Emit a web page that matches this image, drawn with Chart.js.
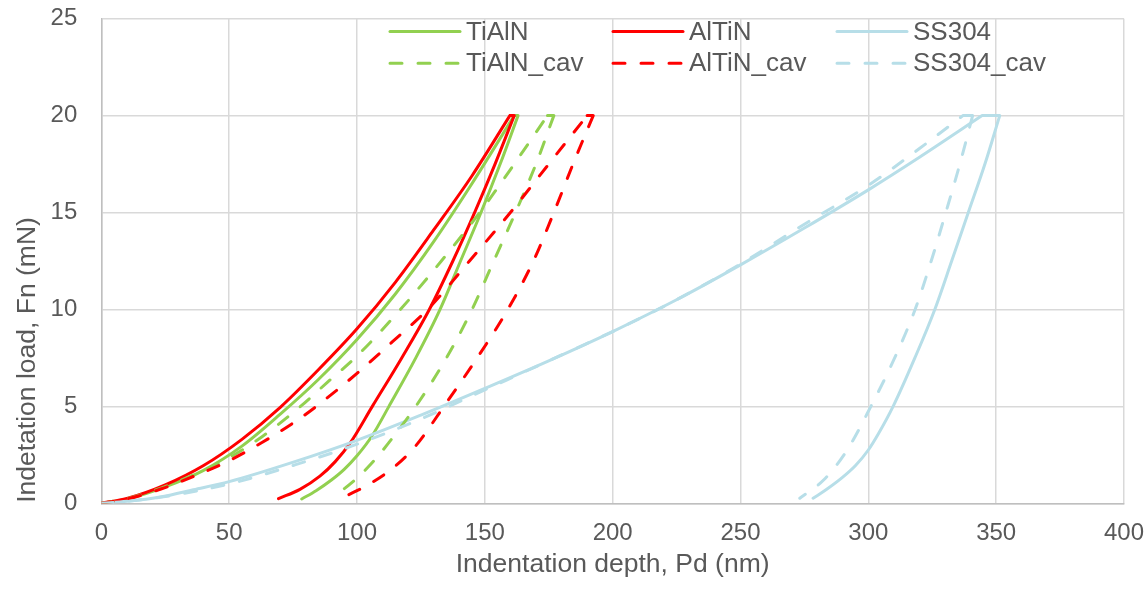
<!DOCTYPE html>
<html>
<head>
<meta charset="utf-8">
<title>Indentation load–depth curves</title>
<script src="https://cdn.jsdelivr.net/npm/chart.js@4.4.1/dist/chart.umd.min.js"></script>
<style>
  html, body { margin: 0; padding: 0; background: #ffffff; }
  canvas { display: block; }
</style>
</head>
<body>
<canvas id="chart" width="1148" height="589"></canvas>
<script>
// ---- Load–depth data: [depth (nm), load (mN)] ----
// Each sample has a loading branch and an unloading branch; the short
// hold at peak load joins the end of loading to the start of unloading.
const tialnLoad = [[0,0],[10,0.22],[25,0.85],[40,1.7],[55,2.95],[70,4.6],[85,6.4],[100,8.45],[115,10.8],[130,13.5],[145,16.5],[161.5,20]];
const tialnUnload = [[163,20],[156,17.5],[148.5,15],[140.5,12.5],[132.5,10],[123,7.5],[112.5,5],[106,3.5],[100,2.45],[95,1.75],[90,1.2],[84,0.65],[78.4,0.22]];

const altinLoad = [[0,0],[10,0.25],[25,0.95],[40,1.95],[55,3.3],[70,4.95],[85,6.9],[100,9.0],[115,11.4],[130,14.1],[145,16.9],[159.8,20]];
const altinUnload = [[161.5,20],[154,17.5],[146,15],[137.5,12.5],[128.3,10],[117.5,7.5],[106,5],[97.3,3.1],[91.5,2.15],[85.5,1.4],[77.7,0.72],[69.3,0.24]];

const ss304Load = [[0,0],[10,0.1],[23.6,0.34],[36,0.7],[50,1.12],[75.7,2.15],[100,3.25],[125,4.55],[150,5.93],[175,7.35],[200,8.86],[225,10.5],[250,12.3],[275,14.2],[300,16.17],[320,17.85],[344.5,20]];
const ss304Unload = [[351.4,20],[345.6,17.5],[339.1,15],[332.6,12.5],[326,10],[318.2,7.5],[309.7,5],[304,3.6],[300,2.75],[295,1.95],[290,1.35],[284,0.75],[278.4,0.26]];

const tialnCavLoad = [[0,0],[10,0.24],[23.6,0.8],[36.6,1.5],[50,2.35],[63,3.45],[77.5,4.95],[88.5,6.25],[100,7.6],[117,10],[133,12.5],[148,15],[161.5,17.5],[174.5,20]];
const tialnCavUnload = [[177,20],[170,17.5],[162,15],[153.5,12.5],[145,10],[135,7.5],[123,5],[112,3.05],[106,2.1],[100,1.3],[92,0.43]];

const altinCavLoad = [[0,0],[10,0.22],[23.6,0.75],[36.6,1.42],[50,2.2],[63,3.15],[75.7,4.2],[83.6,4.95],[100,6.7],[114,8.35],[128,10.05],[144,12.5],[160,15],[175,17.5],[190,20]];
const altinCavUnload = [[192.4,20],[184.5,17.5],[177,15],[169,12.5],[159,10],[147,7.5],[134,5],[123.2,3],[115,1.92],[106,1.08],[100,0.65],[93.4,0.24]];

const ss304CavLoad = [[0,0],[10,0.1],[23.6,0.32],[50,1.0],[75.7,1.98],[100,3.05],[125,4.35],[150,5.85],[175,7.35],[200,8.86],[225,10.5],[250,12.35],[275,14.4],[300,16.4],[320,18.3],[337,20]];
const ss304CavUnload = [[340.8,20],[335.8,17.5],[330.3,15],[324.6,12.5],[318.3,10],[310.3,7.5],[301,5],[291.5,2.7],[282.5,1.2],[273.2,0.26]];

const seriesNames = ['TiAlN', 'AlTiN', 'SS304', 'TiAlN_cav', 'AlTiN_cav', 'SS304_cav'];
const xTicks = [0, 50, 100, 150, 200, 250, 300, 350, 400];
const yTicks = [0, 5, 10, 15, 20, 25];
const xTitle = 'Indentation depth, Pd (nm)';
const yTitle = 'Indetation load, Fn (mN)';

// ---- Styling ----
const FONT = '"Liberation Sans", Arial, Helvetica, sans-serif';
const TEXT = '#595959';
const GREEN = '#92D050', RED = '#FF0000', BLUE = '#B7DEE8';
const DASH = [12, 16];

// Build one continuous path: loading, hold, unloading (gaps keep the
// smoothing from rounding off the corners at peak load).
const GAP = { x: null, y: null };
const pt = p => ({ x: p[0], y: p[1] });
function cycle(load, unload) {
  const hold = [load[load.length - 1], unload[0]];
  return [...load.map(pt), GAP, ...hold.map(pt), GAP, ...unload.map(pt)];
}

function series(label, load, unload, color, dashed, order) {
  return {
    label,
    data: cycle(load, unload),
    borderColor: color,
    backgroundColor: color,
    borderWidth: 3,
    borderDash: dashed ? DASH : [],
    borderCapStyle: 'round',
    borderJoinStyle: 'round',
    pointRadius: 0,
    pointHoverRadius: 0,
    fill: false,
    cubicInterpolationMode: 'monotone',
    spanGaps: false,
    order
  };
}

const datasets = [
  series(seriesNames[0], tialnLoad, tialnUnload, GREEN, false, 6),
  series(seriesNames[1], altinLoad, altinUnload, RED, false, 5),
  series(seriesNames[2], ss304Load, ss304Unload, BLUE, false, 4),
  series(seriesNames[3], tialnCavLoad, tialnCavUnload, GREEN, true, 3),
  series(seriesNames[4], altinCavLoad, altinCavUnload, RED, true, 2),
  series(seriesNames[5], ss304CavLoad, ss304CavUnload, BLUE, true, 1)
];

// Legend: three columns (one per material), solid row above the _cav row.
const gridLegend = {
  id: 'gridLegend',
  afterDatasetsDraw(chart) {
    const { ctx } = chart;
    const colX = [390, 613, 837];
    const rowY = [31.5, 63.3];
    const lineLen = 70;
    ctx.save();
    ctx.font = '26px ' + FONT;
    ctx.textBaseline = 'middle';
    ctx.textAlign = 'left';
    chart.data.datasets.forEach((ds, i) => {
      const x = colX[i % 3], y = rowY[Math.floor(i / 3)];
      ctx.strokeStyle = ds.borderColor;
      ctx.lineWidth = 3;
      ctx.lineCap = 'round';
      ctx.setLineDash(ds.borderDash || []);
      ctx.beginPath();
      ctx.moveTo(x, y);
      ctx.lineTo(x + lineLen, y);
      ctx.stroke();
      ctx.setLineDash([]);
      ctx.fillStyle = TEXT;
      ctx.fillText(ds.label, x + lineLen + 6, y + 1);
    });
    ctx.restore();
  }
};

// Axis titles.
const axisTitles = {
  id: 'axisTitles',
  afterDraw(chart) {
    const { ctx, chartArea } = chart;
    ctx.save();
    ctx.fillStyle = TEXT;
    ctx.font = '26.5px ' + FONT;
    ctx.textAlign = 'center';
    ctx.textBaseline = 'middle';
    ctx.fillText(xTitle, (chartArea.left + chartArea.right) / 2, 565);
    ctx.translate(28, 360);
    ctx.rotate(-Math.PI / 2);
    ctx.fillText(yTitle, 0, 0);
    ctx.restore();
  }
};

new Chart(document.getElementById('chart'), {
  type: 'line',
  data: { datasets },
  plugins: [gridLegend, axisTitles],
  options: {
    responsive: false,
    animation: false,
    devicePixelRatio: 1,
    layout: { padding: { left: 0, right: 24, top: 18.7, bottom: 0 } },
    plugins: {
      legend: { display: false },
      tooltip: { enabled: false }
    },
    scales: {
      x: {
        type: 'linear',
        min: xTicks[0],
        max: xTicks[xTicks.length - 1],
        afterBuildTicks: s => { s.ticks = xTicks.map(v => ({ value: v })); },
        afterFit: s => { s.height = 85.7; s.paddingLeft = 0; s.paddingRight = 0; },
        grid: { color: '#D9D9D9', lineWidth: 1.5, drawTicks: false },
        border: { color: '#BFBFBF', width: 1.5 },
        ticks: { color: TEXT, font: { family: FONT, size: 24 }, padding: 16, maxRotation: 0 }
      },
      y: {
        type: 'linear',
        min: yTicks[0],
        max: yTicks[yTicks.length - 1],
        afterBuildTicks: s => { s.ticks = yTicks.map(v => ({ value: v })); },
        afterFit: s => { s.width = 101.3; s.paddingTop = 0; s.paddingBottom = 0; },
        grid: { color: '#D9D9D9', lineWidth: 1.5, drawTicks: false },
        border: { color: '#BFBFBF', width: 1.5 },
        ticks: { color: TEXT, font: { family: FONT, size: 24 }, padding: 24 }
      }
    }
  }
});
</script>
</body>
</html>
